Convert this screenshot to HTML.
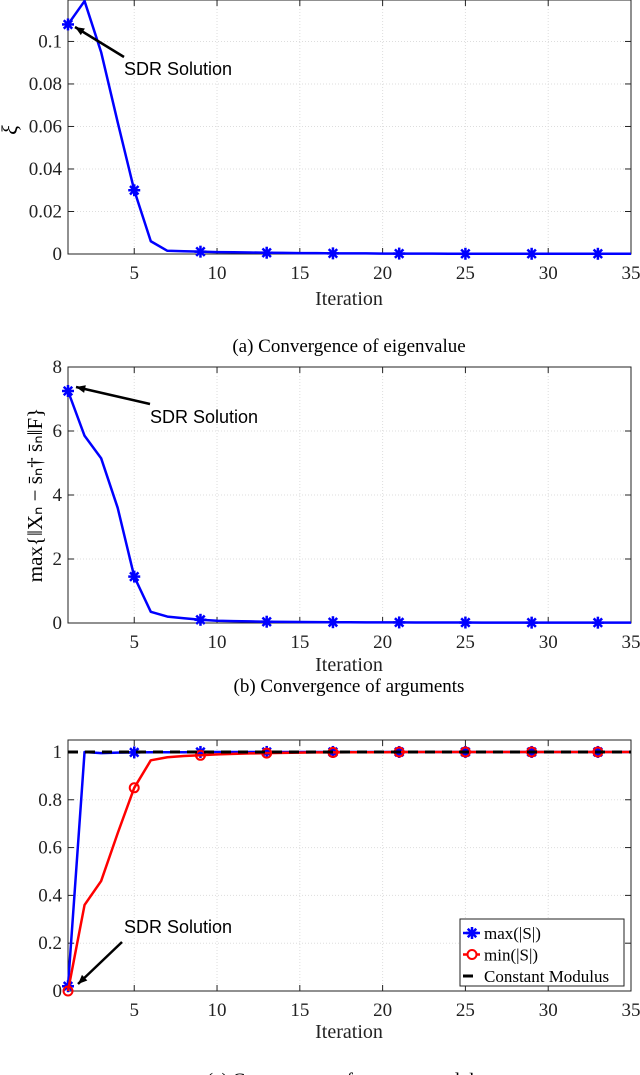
<!DOCTYPE html>
<html><head><meta charset="utf-8"><style>
body{margin:0;background:#fff;}
svg{display:block;font-family:"Liberation Serif",serif;}
</style></head><body>
<svg id="fig" width="640" height="1075" viewBox="0 0 640 1075"></svg>
<script>
const iters=[1,2,3,4,5,6,7,8,9,10,11,12,13,14,15,16,17,18,19,20,21,22,23,24,25,26,27,28,29,30,31,32,33,34,35];
const xiVals=[0.108,0.119,0.095,0.062,0.030,0.006,0.0015,0.0013,0.0011,0.0009,0.0008,0.0007,0.0006,0.0005,0.0004,0.0004,0.0003,0.0003,0.0003,0.0002,0.0002,0.0002,0.0002,0.0001,0.0001,0.0001,0.0001,0.0001,0.0001,0.0001,0.0001,0.0001,0.0001,0.0001,0.0001];
const argVals=[7.25,5.85,5.15,3.6,1.45,0.35,0.2,0.15,0.1,0.07,0.06,0.05,0.04,0.035,0.03,0.028,0.025,0.022,0.02,0.019,0.018,0.017,0.016,0.015,0.014,0.013,0.012,0.012,0.011,0.011,0.01,0.01,0.01,0.01,0.01];
const maxVals=[0.02,1,0.995,0.997,0.998,0.999,0.999,0.999,1,1,1,1,1,1,1,1,1,1,1,1,1,1,1,1,1,1,1,1,1,1,1,1,1,1,1];
const minVals=[0,0.36,0.46,0.66,0.85,0.965,0.978,0.983,0.986,0.99,0.992,0.994,0.995,0.996,0.997,0.998,0.998,0.999,0.999,0.999,1,1,1,1,1,1,1,1,1,1,1,1,1,1,1];
const cmVals=[1,1];
const xTicks=[5,10,15,20,25,30,35];
const yTicks1=[0,0.02,0.04,0.06,0.08,0.1];
const yTickLabels1=["0","0.02","0.04","0.06","0.08","0.1"];
const yTicks2=[0,2,4,6,8];
const yTicks3=[0,0.2,0.4,0.6,0.8,1];
const markerIdx=[1,5,9,13,17,21,25,29,33];

const NS="http://www.w3.org/2000/svg";
const svg=document.getElementById('fig');
function el(tag,attrs,parent){const e=document.createElementNS(NS,tag);for(const k in attrs)e.setAttribute(k,attrs[k]);(parent||svg).appendChild(e);return e;}
function txt(s,attrs,parent){const t=el('text',attrs,parent);t.textContent=s;return t;}

function makeAxes(name,top,bottom,ymax,yTicks,yLabels,titleOff){
  const L=68,R=631;
  const g=el('g',{});
  
  
  const X=v=>L+(v-1)/34*(R-L);
  const Y=v=>bottom-v/ymax*(bottom-top);
  xTicks.forEach(t=>{el('line',{x1:X(t),x2:X(t),y1:top,y2:bottom,stroke:'#ddd','stroke-dasharray':'1,2','stroke-width':1},g);});
  yTicks.forEach(t=>{el('line',{x1:L,x2:R,y1:Y(t),y2:Y(t),stroke:'#ddd','stroke-dasharray':'1,2','stroke-width':1},g);});
  el('rect',{x:L,y:top,width:R-L,height:bottom-top,fill:'none',stroke:'#222','stroke-width':1},g);
  xTicks.forEach(t=>{
    el('line',{x1:X(t),x2:X(t),y1:bottom,y2:bottom-6,stroke:'#222'},g);
    el('line',{x1:X(t),x2:X(t),y1:top,y2:top+6,stroke:'#222'},g);
    const lab=txt(String(t),{x:X(t),y:bottom+25,'text-anchor':'middle','font-size':19,fill:'#222'},g);
    
    
  });
  yTicks.forEach((t,i)=>{
    el('line',{x1:L,x2:L+6,y1:Y(t),y2:Y(t),stroke:'#222'},g);
    el('line',{x1:R,x2:R-6,y1:Y(t),y2:Y(t),stroke:'#222'},g);
    const lab=txt(yLabels?yLabels[i]:String(t),{x:L-6,y:Y(t)+6,'text-anchor':'end','font-size':19,fill:'#222'},g);
    
    
  });
  const xt=txt('Iteration',{x:349,y:bottom+titleOff,'text-anchor':'middle','font-size':20,fill:'#222'},g);
  
  
  return {X,Y,g};
}
function star(g,x,y,c){
  const r=6;
  for(let a=0;a<4;a++){const an=a*Math.PI/4;el('line',{x1:x-r*Math.cos(an),y1:y-r*Math.sin(an),x2:x+r*Math.cos(an),y2:y+r*Math.sin(an),stroke:c,'stroke-width':2.5},g);}
}
function series(ax,vals,color,marker,name){
  const g=el('g',{},ax.g);
  
  
  el('polyline',{points:vals.map((v,i)=>ax.X(iters[i])+','+ax.Y(v)).join(' '),fill:'none',stroke:color,'stroke-width':2.5,'stroke-linejoin':'round'},g);
  markerIdx.forEach(k=>{const i=k-1;const x=ax.X(iters[i]),y=ax.Y(vals[i]);
    if(marker==='star')star(g,x,y,color);else el('circle',{cx:x,cy:y,r:4.5,fill:'none',stroke:color,'stroke-width':2},g);});
}
function arrow(g,x1,y1,x2,y2){
  el('line',{x1,y1,x2,y2,stroke:'#000','stroke-width':2.5},g);
  const a=Math.atan2(y2-y1,x2-x1),h=10,w=0.4;
  el('polygon',{points:`${x2},${y2} ${x2-h*Math.cos(a-w)},${y2-h*Math.sin(a-w)} ${x2-h*Math.cos(a+w)},${y2-h*Math.sin(a+w)}`,fill:'#000'},g);
}
const SANS='"Liberation Sans",sans-serif';

// Plot (a)
const a1=makeAxes('eigenvalue-chart',0,254,0.1195,yTicks1,yTickLabels1,51);
series(a1,xiVals,'#0000ff','star','xi-series');
const yl1=txt('ξ',{x:0,y:0,'font-size':22,'font-style':'italic',transform:'translate(17,130) rotate(-90)','text-anchor':'middle'});


arrow(a1.g,124,57,75,27);
const an1=txt('SDR Solution',{x:124,y:75,'font-size':18,'font-family':SANS});


const c1=txt('(a) Convergence of eigenvalue',{x:349,y:352,'text-anchor':'middle','font-size':19});



// Plot (b)
const a2=makeAxes('arguments-chart',367,623,8,yTicks2,null,48);
series(a2,argVals,'#0000ff','star','argument-series');
const yl2=txt('max{‖Xₙ − s̄ₙ† s̄ₙ‖F}',{x:0,y:0,'font-size':21,transform:'translate(42,495) rotate(-90)','text-anchor':'middle'});


arrow(a2.g,150,404,76,387);
const an2=txt('SDR Solution',{x:150,y:423,'font-size':18,'font-family':SANS});


const c2=txt('(b) Convergence of arguments',{x:349,y:692,'text-anchor':'middle','font-size':19});



// Plot (c)
const a3=makeAxes('modulus-chart',740,991,1.05,yTicks3,null,47);
series(a3,maxVals,'#0000ff','star','max-series');
series(a3,minVals,'#ff0000','circle','min-series');
const cmG=el('g',{},a3.g);


el('line',{x1:a3.X(1),x2:a3.X(35),y1:a3.Y(cmVals[0]),y2:a3.Y(cmVals[1]),stroke:'#000','stroke-width':3,'stroke-dasharray':'10,7'},cmG);
arrow(a3.g,122,942,78,984);
const an3=txt('SDR Solution',{x:124,y:933,'font-size':18,'font-family':SANS});


// legend
const lg=el('g',{});


el('rect',{x:460,y:919,width:164,height:67,fill:'#fff',stroke:'#222','stroke-width':1},lg);
const entries=[['max(|S|)','#0000ff','star'],['min(|S|)','#ff0000','circle'],['Constant Modulus','#000','dash']];
entries.forEach((e,i)=>{
  const y=933+i*21.5;
  const eg=el('g',{},lg);
  
  
  if(e[2]==='dash'){el('line',{x1:463,x2:473,y1:y,y2:y,stroke:'#000','stroke-width':3},eg);}
  else{el('line',{x1:463,x2:480,y1:y,y2:y,stroke:e[1],'stroke-width':2.5},eg);
    if(e[2]==='star')star(eg,472,y,e[1]);else el('circle',{cx:472,cy:y,r:4.5,fill:'#fff',stroke:e[1],'stroke-width':2},eg);}
  txt(e[0],{x:484,y:y+6,'font-size':17},eg);
});
const c3=txt('(c) Convergence of constant modulus',{x:349,y:1086,'text-anchor':'middle','font-size':19});


</script>
</body></html>
